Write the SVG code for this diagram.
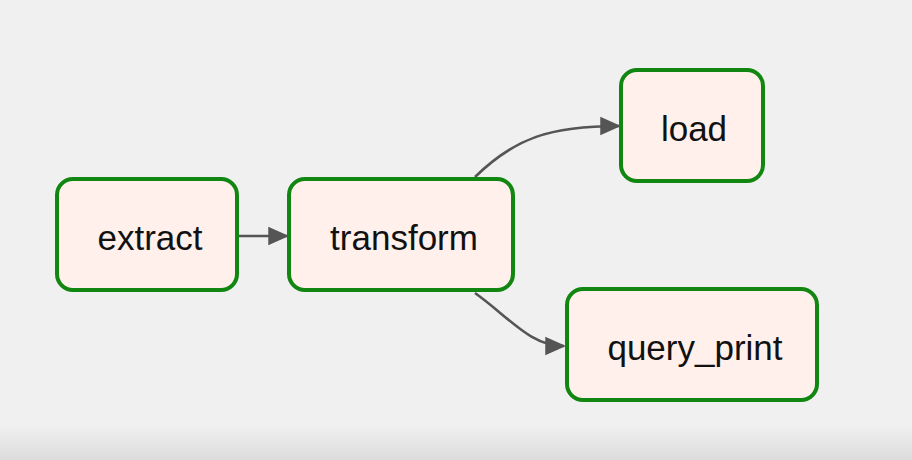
<svg xmlns="http://www.w3.org/2000/svg" width="912" height="460" viewBox="0 0 912 460">
  <defs>
    <linearGradient id="bottomShade" x1="0" y1="0" x2="0" y2="1">
      <stop offset="0" stop-color="#f0f0f0"/>
      <stop offset="1" stop-color="#dcdcdc"/>
    </linearGradient>
    <marker id="arrow" viewBox="0 0 10 10" refX="9" refY="5" markerWidth="8" markerHeight="8" markerUnits="strokeWidth" orient="auto">
      <path d="M0,0.5 L10,5 L0,9.5 z" fill="#555555"/>
    </marker>
  </defs>
  <style>
    .node rect { fill: #fff0ec; stroke: #118611; stroke-width: 4; }
    .node text { font-family: "Liberation Sans", Arial, sans-serif; font-size: 35px; fill: #111111; text-anchor: middle; }
    .edge { fill: none; stroke: #555555; stroke-width: 2.6; marker-end: url(#arrow); }
  </style>
  <rect x="0" y="0" width="912" height="460" fill="#f0f0f0"/>
  <rect x="0" y="425" width="912" height="35" fill="url(#bottomShade)"/>

  <g id="connectors">
    <path class="edge" d="M237,236 L287,236"/>
    <path class="edge" d="M475,177 C515,138 550,126 619,126"/>
    <path class="edge" d="M475,293 C510,318 530,346 564,346"/>
  </g>

  <g id="extract" class="node">
    <rect x="57" y="179" width="180" height="111" rx="16" ry="16"/>
    <text x="150" y="250">extract</text>
  </g>
  <g id="transform" class="node">
    <rect x="289" y="179" width="224" height="111" rx="16" ry="16"/>
    <text x="404" y="250">transform</text>
  </g>
  <g id="load" class="node">
    <rect x="621" y="70" width="142" height="111" rx="16" ry="16"/>
    <text x="694" y="141">load</text>
  </g>
  <g id="query_print" class="node">
    <rect x="567" y="289" width="250" height="111" rx="16" ry="16"/>
    <text x="695" y="360">query_print</text>
  </g>
</svg>
